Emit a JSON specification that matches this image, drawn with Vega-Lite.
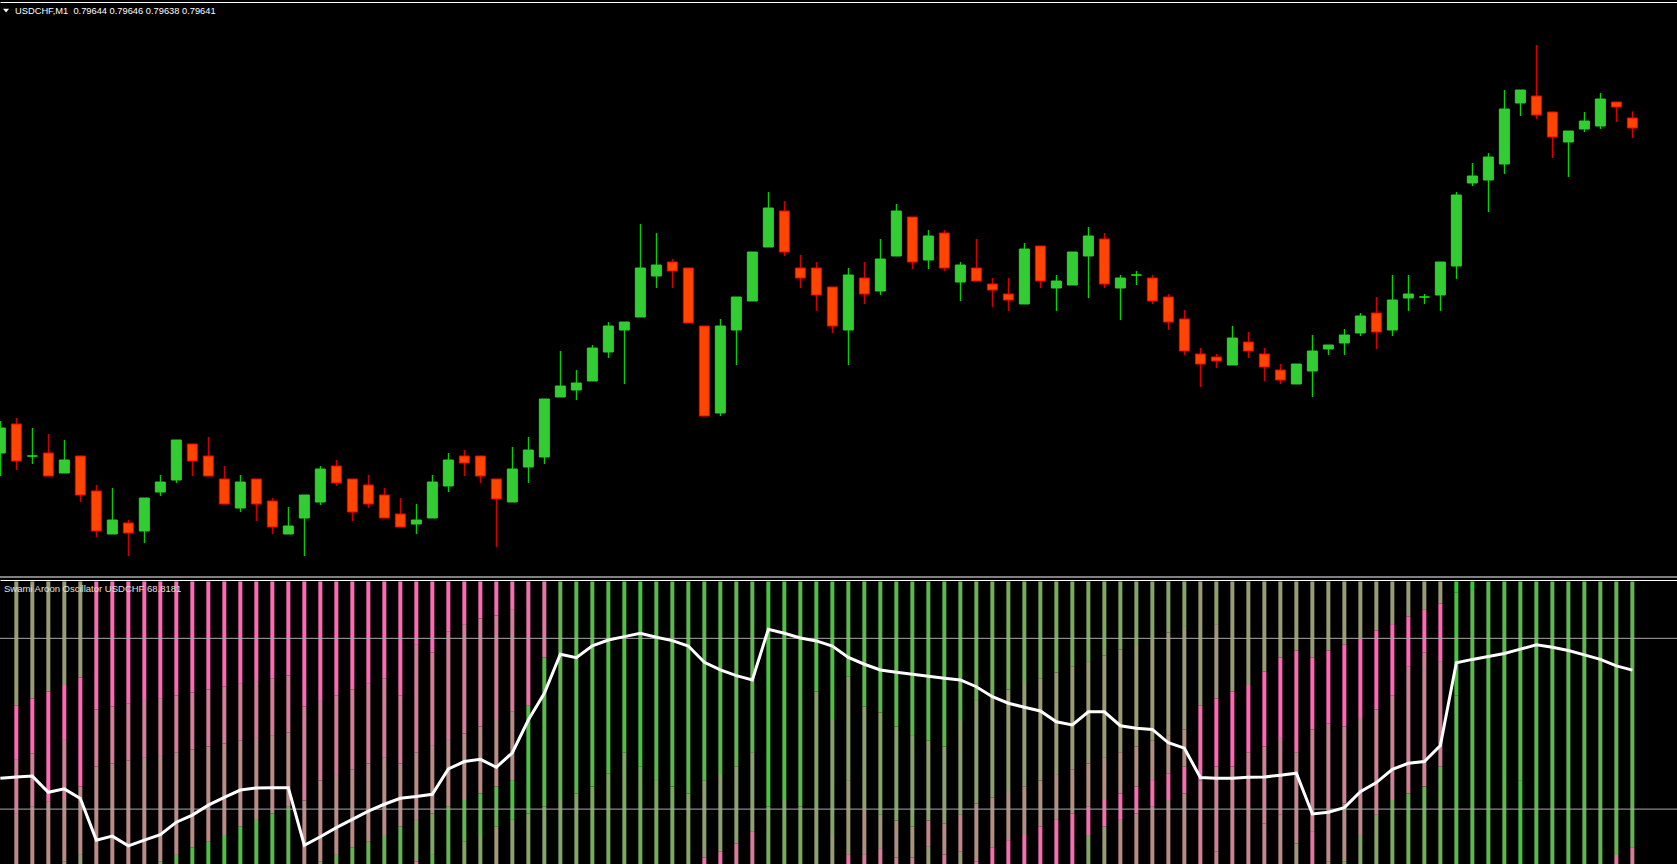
{
"$schema": "https://vega.github.io/schema/vega-lite/v6.json",
"background": "#000000",
"padding": {"left": 0, "top": 2, "right": 0, "bottom": 0},
"bounds": "flush",
"spacing": 2,
"config": {"view": {"stroke": null}, "axis": {"grid": false}},
"datasets": {
"candles": [
{"i":0,"o":0.795435,"h":0.795531,"l":0.795366,"c":0.79551},
{"i":1,"o":0.795522,"h":0.79554,"l":0.795384,"c":0.795411},
{"i":2,"o":0.795426,"h":0.79551,"l":0.795402,"c":0.795426},
{"i":3,"o":0.795435,"h":0.795492,"l":0.795366,"c":0.795366},
{"i":4,"o":0.795375,"h":0.795474,"l":0.795375,"c":0.795414},
{"i":5,"o":0.795426,"h":0.795426,"l":0.795288,"c":0.795309},
{"i":6,"o":0.795321,"h":0.795339,"l":0.795183,"c":0.795201},
{"i":7,"o":0.795192,"h":0.79533,"l":0.795192,"c":0.795234},
{"i":8,"o":0.795225,"h":0.795234,"l":0.795126,"c":0.795195},
{"i":9,"o":0.795201,"h":0.7953,"l":0.795165,"c":0.7953},
{"i":10,"o":0.795318,"h":0.795369,"l":0.795306,"c":0.795348},
{"i":11,"o":0.795354,"h":0.795474,"l":0.795345,"c":0.795474},
{"i":12,"o":0.795462,"h":0.795462,"l":0.795366,"c":0.795411},
{"i":13,"o":0.795426,"h":0.795483,"l":0.795366,"c":0.795366},
{"i":14,"o":0.795357,"h":0.795396,"l":0.795282,"c":0.795282},
{"i":15,"o":0.79527,"h":0.795369,"l":0.795258,"c":0.795348},
{"i":16,"o":0.795357,"h":0.795357,"l":0.795231,"c":0.795282},
{"i":17,"o":0.795291,"h":0.7953,"l":0.795192,"c":0.795213},
{"i":18,"o":0.795192,"h":0.795273,"l":0.795192,"c":0.795216},
{"i":19,"o":0.79524,"h":0.795309,"l":0.795126,"c":0.795309},
{"i":20,"o":0.795288,"h":0.795396,"l":0.795279,"c":0.795387},
{"i":21,"o":0.795396,"h":0.795414,"l":0.795336,"c":0.795345},
{"i":22,"o":0.795357,"h":0.795357,"l":0.795231,"c":0.795258},
{"i":23,"o":0.795339,"h":0.795369,"l":0.79527,"c":0.795282},
{"i":24,"o":0.795309,"h":0.79533,"l":0.79524,"c":0.79524},
{"i":25,"o":0.795252,"h":0.7953,"l":0.795213,"c":0.795213},
{"i":26,"o":0.795222,"h":0.795282,"l":0.795192,"c":0.795234},
{"i":27,"o":0.79524,"h":0.795369,"l":0.79524,"c":0.795348},
{"i":28,"o":0.795336,"h":0.795435,"l":0.795318,"c":0.795414},
{"i":29,"o":0.795426,"h":0.795444,"l":0.795366,"c":0.795405},
{"i":30,"o":0.795426,"h":0.795426,"l":0.795345,"c":0.795366},
{"i":31,"o":0.795357,"h":0.795357,"l":0.795153,"c":0.795297},
{"i":32,"o":0.795288,"h":0.795453,"l":0.795288,"c":0.795387},
{"i":33,"o":0.795393,"h":0.795483,"l":0.795345,"c":0.795444},
{"i":34,"o":0.795423,"h":0.795597,"l":0.795402,"c":0.795597},
{"i":35,"o":0.795603,"h":0.795741,"l":0.795603,"c":0.795636},
{"i":36,"o":0.795624,"h":0.795684,"l":0.795594,"c":0.795645},
{"i":37,"o":0.795651,"h":0.795759,"l":0.795651,"c":0.79575},
{"i":38,"o":0.795738,"h":0.795828,"l":0.79572,"c":0.795816},
{"i":39,"o":0.795804,"h":0.795828,"l":0.795642,"c":0.795828},
{"i":40,"o":0.795843,"h":0.796122,"l":0.795843,"c":0.79599},
{"i":41,"o":0.795966,"h":0.796095,"l":0.79593,"c":0.795999},
{"i":42,"o":0.796008,"h":0.796017,"l":0.79593,"c":0.795981},
{"i":43,"o":0.79599,"h":0.79599,"l":0.795825,"c":0.795825},
{"i":44,"o":0.795816,"h":0.795816,"l":0.795546,"c":0.795546},
{"i":45,"o":0.795555,"h":0.795837,"l":0.795546,"c":0.795816},
{"i":46,"o":0.795804,"h":0.795903,"l":0.795699,"c":0.795903},
{"i":47,"o":0.795891,"h":0.796038,"l":0.795891,"c":0.796038},
{"i":48,"o":0.796053,"h":0.796218,"l":0.796053,"c":0.79617},
{"i":49,"o":0.796161,"h":0.796191,"l":0.796026,"c":0.796038},
{"i":50,"o":0.79599,"h":0.796029,"l":0.79593,"c":0.79596},
{"i":51,"o":0.79599,"h":0.796008,"l":0.795861,"c":0.795909},
{"i":52,"o":0.795933,"h":0.795933,"l":0.795795,"c":0.795816},
{"i":53,"o":0.795804,"h":0.79599,"l":0.795699,"c":0.795969},
{"i":54,"o":0.79596,"h":0.796008,"l":0.795882,"c":0.795912},
{"i":55,"o":0.795921,"h":0.796077,"l":0.795909,"c":0.796017},
{"i":56,"o":0.796026,"h":0.796182,"l":0.796026,"c":0.796161},
{"i":57,"o":0.796143,"h":0.796143,"l":0.795987,"c":0.796008},
{"i":58,"o":0.796014,"h":0.796104,"l":0.795987,"c":0.796086},
{"i":59,"o":0.796095,"h":0.796104,"l":0.795981,"c":0.79599},
{"i":60,"o":0.795948,"h":0.796008,"l":0.795891,"c":0.795999},
{"i":61,"o":0.79599,"h":0.796077,"l":0.795951,"c":0.795951},
{"i":62,"o":0.795942,"h":0.79596,"l":0.795873,"c":0.795924},
{"i":63,"o":0.795912,"h":0.79596,"l":0.795861,"c":0.795894},
{"i":64,"o":0.795882,"h":0.796065,"l":0.795882,"c":0.796047},
{"i":65,"o":0.796056,"h":0.796056,"l":0.79593,"c":0.795951},
{"i":66,"o":0.79593,"h":0.795969,"l":0.795861,"c":0.795951},
{"i":67,"o":0.795939,"h":0.796038,"l":0.795939,"c":0.796038},
{"i":68,"o":0.796026,"h":0.796113,"l":0.7959,"c":0.796086},
{"i":69,"o":0.796077,"h":0.796095,"l":0.79593,"c":0.795942},
{"i":70,"o":0.79593,"h":0.795969,"l":0.795834,"c":0.79596},
{"i":71,"o":0.795969,"h":0.795981,"l":0.795939,"c":0.795969},
{"i":72,"o":0.79596,"h":0.795969,"l":0.795882,"c":0.795891},
{"i":73,"o":0.795903,"h":0.795912,"l":0.795804,"c":0.795828},
{"i":74,"o":0.795837,"h":0.795864,"l":0.795729,"c":0.795741},
{"i":75,"o":0.795732,"h":0.79575,"l":0.795633,"c":0.795702},
{"i":76,"o":0.795723,"h":0.795732,"l":0.79569,"c":0.795711},
{"i":77,"o":0.795699,"h":0.795816,"l":0.795699,"c":0.79578},
{"i":78,"o":0.795768,"h":0.795798,"l":0.79572,"c":0.795741},
{"i":79,"o":0.795732,"h":0.79575,"l":0.795651,"c":0.795693},
{"i":80,"o":0.795684,"h":0.795702,"l":0.795642,"c":0.795654},
{"i":81,"o":0.795642,"h":0.795702,"l":0.795642,"c":0.795702},
{"i":82,"o":0.795681,"h":0.795789,"l":0.795603,"c":0.795741},
{"i":83,"o":0.795747,"h":0.795759,"l":0.795729,"c":0.795759},
{"i":84,"o":0.795765,"h":0.795807,"l":0.795729,"c":0.795789},
{"i":85,"o":0.795795,"h":0.795855,"l":0.795786,"c":0.795846},
{"i":86,"o":0.795855,"h":0.795903,"l":0.795747,"c":0.795798},
{"i":87,"o":0.795804,"h":0.795969,"l":0.795786,"c":0.795894},
{"i":88,"o":0.7959,"h":0.795969,"l":0.795861,"c":0.795912},
{"i":89,"o":0.795903,"h":0.795912,"l":0.795882,"c":0.795903},
{"i":90,"o":0.795909,"h":0.796008,"l":0.795861,"c":0.796008},
{"i":91,"o":0.795996,"h":0.796218,"l":0.795957,"c":0.796209},
{"i":92,"o":0.796245,"h":0.796305,"l":0.796236,"c":0.796266},
{"i":93,"o":0.796254,"h":0.796335,"l":0.796158,"c":0.796323},
{"i":94,"o":0.796302,"h":0.796524,"l":0.796272,"c":0.796467},
{"i":95,"o":0.796485,"h":0.796524,"l":0.796446,"c":0.796524},
{"i":96,"o":0.796506,"h":0.796659,"l":0.796437,"c":0.796449},
{"i":97,"o":0.796458,"h":0.796458,"l":0.79632,"c":0.796383},
{"i":98,"o":0.796368,"h":0.796401,"l":0.796263,"c":0.796401},
{"i":99,"o":0.796407,"h":0.796458,"l":0.796398,"c":0.796431},
{"i":100,"o":0.796416,"h":0.796515,"l":0.796407,"c":0.796497},
{"i":101,"o":0.796488,"h":0.796488,"l":0.796428,"c":0.796473},
{"i":102,"o":0.79644,"h":0.79646,"l":0.79638,"c":0.79641}
],
"osc": [
{"i":0,"v":30.8},{"i":1,"v":31.3},{"i":2,"v":31.6},{"i":3,"v":25.9},{"i":4,"v":27.1},{"i":5,"v":23.7},{"i":6,"v":9.1},{"i":7,"v":10.5},{"i":8,"v":7.1},{"i":9,"v":9.1},
{"i":10,"v":11.0},{"i":11,"v":15.4},{"i":12,"v":17.9},{"i":13,"v":21.4},{"i":14,"v":24.1},{"i":15,"v":26.7},{"i":16,"v":27.4},{"i":17,"v":27.5},{"i":18,"v":27.5},{"i":19,"v":7.3},
{"i":20,"v":10.3},{"i":21,"v":13.5},{"i":22,"v":16.4},{"i":23,"v":19.3},{"i":24,"v":21.7},{"i":25,"v":23.8},{"i":26,"v":24.4},{"i":27,"v":25.2},{"i":28,"v":34.1},{"i":29,"v":36.7},
{"i":30,"v":37.5},{"i":31,"v":34.7},{"i":32,"v":39.8},{"i":33,"v":51.3},{"i":34,"v":60.7},{"i":35,"v":74.4},{"i":36,"v":73.2},{"i":37,"v":77.4},{"i":38,"v":79.4},{"i":39,"v":80.6},
{"i":40,"v":81.8},{"i":41,"v":80.4},{"i":42,"v":79.2},{"i":43,"v":77.3},{"i":44,"v":71.6},{"i":45,"v":68.9},{"i":46,"v":66.9},{"i":47,"v":65.4},{"i":48,"v":83.2},{"i":49,"v":81.8},
{"i":50,"v":80.1},{"i":51,"v":79.1},{"i":52,"v":77.3},{"i":53,"v":73.3},{"i":54,"v":70.9},{"i":55,"v":68.9},{"i":56,"v":68.1},{"i":57,"v":67.4},{"i":58,"v":66.7},{"i":59,"v":66.0},
{"i":60,"v":65.4},{"i":61,"v":63.0},{"i":62,"v":59.5},{"i":63,"v":57.2},{"i":64,"v":55.8},{"i":65,"v":54.5},{"i":66,"v":50.7},{"i":67,"v":49.6},{"i":68,"v":54.2},{"i":69,"v":54.2},
{"i":70,"v":49.3},{"i":71,"v":48.4},{"i":72,"v":48.0},{"i":73,"v":43.3},{"i":74,"v":41.4},{"i":75,"v":31.1},{"i":76,"v":30.8},{"i":77,"v":30.8},{"i":78,"v":31.2},{"i":79,"v":31.3},
{"i":80,"v":31.9},{"i":81,"v":32.6},{"i":82,"v":18.3},{"i":83,"v":18.9},{"i":84,"v":20.5},{"i":85,"v":26.1},{"i":86,"v":29.3},{"i":87,"v":34.0},{"i":88,"v":36.1},{"i":89,"v":36.7},
{"i":90,"v":42.3},{"i":91,"v":71.4},{"i":92,"v":72.6},{"i":93,"v":73.6},{"i":94,"v":74.7},{"i":95,"v":76.2},{"i":96,"v":77.7},{"i":97,"v":76.9},{"i":98,"v":75.7},{"i":99,"v":74.2},
{"i":100,"v":72.6},{"i":101,"v":70.3},{"i":102,"v":68.8181}
],
"swami": [
{"i":1,"a":100,"b":56.3,"c":0.5},{"i":1,"a":56.3,"b":37.3,"c":0.0},{"i":1,"a":37.3,"b":18.3,"c":0.22},{"i":1,"a":18.3,"b":0,"c":0.33},
{"i":2,"a":100,"b":58.9,"c":0.5},{"i":2,"a":58.9,"b":39.6,"c":0.0},{"i":2,"a":39.6,"b":20.8,"c":0.22},{"i":2,"a":20.8,"b":0,"c":0.33},
{"i":3,"a":100,"b":61.3,"c":0.5},{"i":3,"a":61.3,"b":22.8,"c":0.0},{"i":3,"a":22.8,"b":0,"c":0.33},
{"i":4,"a":100,"b":63.6,"c":0.5},{"i":4,"a":63.6,"b":44.3,"c":0.0},{"i":4,"a":44.3,"b":23.2,"c":0.22},{"i":4,"a":23.2,"b":1.5,"c":0.33},{"i":4,"a":1.5,"b":0,"c":0.5},
{"i":5,"a":100,"b":66.2,"c":0.5},{"i":5,"a":66.2,"b":27.9,"c":0.0},{"i":5,"a":27.9,"b":3.9,"c":0.33},{"i":5,"a":3.9,"b":0,"c":0.5},
{"i":6,"a":100,"b":55,"c":0.05},{"i":6,"a":55,"b":35,"c":0.2},{"i":6,"a":35,"b":0,"c":0.33},
{"i":7,"a":100,"b":56,"c":0.02},{"i":7,"a":56,"b":36,"c":0.2},{"i":7,"a":36,"b":0,"c":0.33},
{"i":8,"a":100,"b":57,"c":0.02},{"i":8,"a":57,"b":37,"c":0.2},{"i":8,"a":37,"b":0,"c":0.33},
{"i":9,"a":100,"b":58,"c":0.02},{"i":9,"a":58,"b":38,"c":0.2},{"i":9,"a":38,"b":0,"c":0.33},
{"i":10,"a":100,"b":59,"c":0.02},{"i":10,"a":59,"b":39,"c":0.2},{"i":10,"a":39,"b":1.5,"c":0.33},{"i":10,"a":1.5,"b":0,"c":0.6},
{"i":11,"a":100,"b":60,"c":0.02},{"i":11,"a":60,"b":40,"c":0.2},{"i":11,"a":40,"b":3.9,"c":0.33},{"i":11,"a":3.9,"b":0,"c":0.75},
{"i":12,"a":100,"b":61,"c":0.02},{"i":12,"a":61,"b":41,"c":0.2},{"i":12,"a":41,"b":6.6,"c":0.33},{"i":12,"a":6.6,"b":0,"c":0.8},
{"i":13,"a":100,"b":62,"c":0.02},{"i":13,"a":62,"b":42,"c":0.2},{"i":13,"a":42,"b":8.5,"c":0.33},{"i":13,"a":8.5,"b":0,"c":0.85},
{"i":14,"a":100,"b":63,"c":0.02},{"i":14,"a":63,"b":43,"c":0.2},{"i":14,"a":43,"b":10.9,"c":0.33},{"i":14,"a":10.9,"b":0,"c":0.85},
{"i":15,"a":100,"b":64,"c":0.02},{"i":15,"a":64,"b":44,"c":0.2},{"i":15,"a":44,"b":13.8,"c":0.33},{"i":15,"a":13.8,"b":0,"c":0.85},
{"i":16,"a":100,"b":65,"c":0.02},{"i":16,"a":65,"b":45,"c":0.2},{"i":16,"a":45,"b":16.2,"c":0.33},{"i":16,"a":16.2,"b":0,"c":0.8},
{"i":17,"a":100,"b":66,"c":0.02},{"i":17,"a":66,"b":46,"c":0.2},{"i":17,"a":46,"b":18.5,"c":0.33},{"i":17,"a":18.5,"b":0,"c":0.8},
{"i":18,"a":100,"b":67,"c":0.02},{"i":18,"a":67,"b":47,"c":0.2},{"i":18,"a":47,"b":20.8,"c":0.33},{"i":18,"a":20.8,"b":0,"c":0.75},
{"i":19,"a":100,"b":56,"c":0.0},{"i":19,"a":56,"b":23,"c":0.2},{"i":19,"a":23,"b":0,"c":0.33},
{"i":20,"a":100,"b":58,"c":0.02},{"i":20,"a":58,"b":30,"c":0.2},{"i":20,"a":30,"b":1.5,"c":0.33},{"i":20,"a":1.5,"b":0,"c":0.55},
{"i":21,"a":100,"b":60,"c":0.02},{"i":21,"a":60,"b":32,"c":0.2},{"i":21,"a":32,"b":3.9,"c":0.33},{"i":21,"a":3.9,"b":0,"c":0.7},
{"i":22,"a":100,"b":62,"c":0.02},{"i":22,"a":62,"b":34,"c":0.2},{"i":22,"a":34,"b":6.6,"c":0.33},{"i":22,"a":6.6,"b":0,"c":0.7},
{"i":23,"a":100,"b":64,"c":0.02},{"i":23,"a":64,"b":36,"c":0.2},{"i":23,"a":36,"b":8.5,"c":0.33},{"i":23,"a":8.5,"b":0,"c":0.7},
{"i":24,"a":100,"b":66,"c":0.02},{"i":24,"a":66,"b":38,"c":0.2},{"i":24,"a":38,"b":10.9,"c":0.33},{"i":24,"a":10.9,"b":0,"c":0.7},
{"i":25,"a":100,"b":60,"c":0.02},{"i":25,"a":60,"b":36,"c":0.2},{"i":25,"a":36,"b":13.8,"c":0.33},{"i":25,"a":13.8,"b":0,"c":0.75},
{"i":26,"a":100,"b":77.7,"c":0.02},{"i":26,"a":77.7,"b":39.8,"c":0.2},{"i":26,"a":39.8,"b":16.2,"c":0.33},{"i":26,"a":16.2,"b":1.5,"c":0.6},{"i":26,"a":1.5,"b":0,"c":0.1},
{"i":27,"a":100,"b":75,"c":0.02},{"i":27,"a":75,"b":42.5,"c":0.2},{"i":27,"a":42.5,"b":18.5,"c":0.33},{"i":27,"a":18.5,"b":3.9,"c":0.6},{"i":27,"a":3.9,"b":0,"c":0.75},
{"i":28,"a":100,"b":82.3,"c":0.02},{"i":28,"a":82.3,"b":44.3,"c":0.2},{"i":28,"a":44.3,"b":20.8,"c":0.33},{"i":28,"a":20.8,"b":0,"c":0.75},
{"i":29,"a":100,"b":85,"c":0.02},{"i":29,"a":85,"b":46.6,"c":0.2},{"i":29,"a":46.6,"b":23.2,"c":0.33},{"i":29,"a":23.2,"b":8.5,"c":0.75},{"i":29,"a":8.5,"b":0,"c":0.6},
{"i":30,"a":100,"b":87,"c":0.02},{"i":30,"a":87,"b":49,"c":0.2},{"i":30,"a":49,"b":25.5,"c":0.33},{"i":30,"a":25.5,"b":10.9,"c":0.75},{"i":30,"a":10.9,"b":0,"c":0.6},
{"i":31,"a":100,"b":88,"c":0.05},{"i":31,"a":88,"b":51.3,"c":0.2},{"i":31,"a":51.3,"b":27.9,"c":0.33},{"i":31,"a":27.9,"b":13.8,"c":0.75},{"i":31,"a":13.8,"b":0,"c":0.45},
{"i":32,"a":100,"b":90,"c":0.05},{"i":32,"a":90,"b":54.2,"c":0.2},{"i":32,"a":54.2,"b":30.2,"c":0.35},{"i":32,"a":30.2,"b":16.2,"c":0.85},{"i":32,"a":16.2,"b":0,"c":0.55},
{"i":33,"a":100,"b":56.3,"c":0.1},{"i":33,"a":56.3,"b":18.5,"c":0.85},{"i":33,"a":18.5,"b":0,"c":0.6},
{"i":34,"a":100,"b":73.2,"c":0.15},{"i":34,"a":73.2,"b":20.8,"c":0.8},{"i":34,"a":20.8,"b":0,"c":0.6},
{"i":35,"a":100,"b":23.2,"c":0.75},{"i":35,"a":23.2,"b":0,"c":0.6},
{"i":36,"a":100,"b":25.5,"c":0.8},{"i":36,"a":25.5,"b":0,"c":0.6},
{"i":37,"a":100,"b":27.9,"c":0.8},{"i":37,"a":27.9,"b":0,"c":0.65},
{"i":38,"a":100,"b":32.6,"c":0.85},{"i":38,"a":32.6,"b":0,"c":0.65},
{"i":39,"a":100,"b":39.8,"c":0.85},{"i":39,"a":39.8,"b":0,"c":0.65},
{"i":40,"a":100,"b":34.9,"c":0.9},{"i":40,"a":34.9,"b":0,"c":0.7},
{"i":41,"a":100,"b":30.2,"c":0.8},{"i":41,"a":30.2,"b":0,"c":0.65},
{"i":42,"a":100,"b":27.9,"c":0.8},{"i":42,"a":27.9,"b":0,"c":0.65},
{"i":43,"a":100,"b":25.5,"c":0.8},{"i":43,"a":25.5,"b":0,"c":0.6},
{"i":44,"a":100,"b":30,"c":0.8},{"i":44,"a":30,"b":3,"c":0.55},{"i":44,"a":3,"b":0,"c":0.1},
{"i":45,"a":100,"b":32,"c":0.8},{"i":45,"a":32,"b":5,"c":0.55},{"i":45,"a":5,"b":0,"c":0.1},
{"i":46,"a":100,"b":35,"c":0.75},{"i":46,"a":35,"b":8,"c":0.55},{"i":46,"a":8,"b":0,"c":0.2},
{"i":47,"a":100,"b":40,"c":0.75},{"i":47,"a":40,"b":12,"c":0.55},{"i":47,"a":12,"b":0,"c":0.2},
{"i":48,"a":100,"b":20.8,"c":0.9},{"i":48,"a":20.8,"b":0,"c":0.65},
{"i":49,"a":100,"b":23.2,"c":0.85},{"i":49,"a":23.2,"b":0,"c":0.65},
{"i":50,"a":100,"b":20.8,"c":0.8},{"i":50,"a":20.8,"b":0,"c":0.65},
{"i":51,"a":100,"b":61.3,"c":0.85},{"i":51,"a":61.3,"b":20,"c":0.6},{"i":51,"a":20,"b":0,"c":0.55},
{"i":52,"a":100,"b":51.3,"c":0.85},{"i":52,"a":51.3,"b":10.9,"c":0.6},{"i":52,"a":10.9,"b":0,"c":0.5},
{"i":53,"a":100,"b":66.5,"c":0.8},{"i":53,"a":66.5,"b":30.2,"c":0.55},{"i":53,"a":30.2,"b":3.9,"c":0.5},{"i":53,"a":3.9,"b":0,"c":0.1},
{"i":54,"a":100,"b":56,"c":0.8},{"i":54,"a":56,"b":20,"c":0.55},{"i":54,"a":20,"b":3.9,"c":0.4},{"i":54,"a":3.9,"b":0,"c":0.2},
{"i":55,"a":100,"b":54,"c":0.8},{"i":55,"a":54,"b":18,"c":0.6},{"i":55,"a":18,"b":6,"c":0.45},{"i":55,"a":6,"b":0,"c":0.2},
{"i":56,"a":100,"b":49,"c":0.8},{"i":56,"a":49,"b":16,"c":0.6},{"i":56,"a":16,"b":3,"c":0.4},{"i":56,"a":3,"b":0,"c":0.3},
{"i":57,"a":100,"b":46,"c":0.8},{"i":57,"a":46,"b":13.8,"c":0.6},{"i":57,"a":13.8,"b":3,"c":0.45},{"i":57,"a":3,"b":0,"c":0.3},
{"i":58,"a":100,"b":44,"c":0.8},{"i":58,"a":44,"b":16,"c":0.55},{"i":58,"a":16,"b":7,"c":0.3},{"i":58,"a":7,"b":0,"c":0.5},
{"i":59,"a":100,"b":42,"c":0.8},{"i":59,"a":42,"b":15,"c":0.55},{"i":59,"a":15,"b":4,"c":0.35},{"i":59,"a":4,"b":0,"c":0.2},
{"i":60,"a":100,"b":51,"c":0.75},{"i":60,"a":51,"b":18,"c":0.55},{"i":60,"a":18,"b":5,"c":0.3},{"i":60,"a":5,"b":0,"c":0.5},
{"i":61,"a":100,"b":58,"c":0.7},{"i":61,"a":58,"b":22,"c":0.55},{"i":61,"a":22,"b":1.5,"c":0.38},{"i":61,"a":1.5,"b":0,"c":0.05},
{"i":62,"a":100,"b":60,"c":0.7},{"i":62,"a":60,"b":24,"c":0.55},{"i":62,"a":24,"b":6.6,"c":0.38},{"i":62,"a":6.6,"b":0,"c":0.05},
{"i":63,"a":100,"b":62,"c":0.68},{"i":63,"a":62,"b":26,"c":0.52},{"i":63,"a":26,"b":9.1,"c":0.38},{"i":63,"a":9.1,"b":0,"c":0.05},
{"i":64,"a":100,"b":64,"c":0.68},{"i":64,"a":64,"b":28,"c":0.52},{"i":64,"a":28,"b":10.9,"c":0.38},{"i":64,"a":10.9,"b":0,"c":0.05},
{"i":65,"a":100,"b":66,"c":0.66},{"i":65,"a":66,"b":30,"c":0.5},{"i":65,"a":30,"b":13.8,"c":0.38},{"i":65,"a":13.8,"b":0,"c":0.05},
{"i":66,"a":100,"b":68,"c":0.66},{"i":66,"a":68,"b":32,"c":0.5},{"i":66,"a":32,"b":16.2,"c":0.38},{"i":66,"a":16.2,"b":0,"c":0.05},
{"i":67,"a":100,"b":70,"c":0.65},{"i":67,"a":70,"b":34,"c":0.5},{"i":67,"a":34,"b":18.5,"c":0.38},{"i":67,"a":18.5,"b":0,"c":0.05},
{"i":68,"a":100,"b":72,"c":0.65},{"i":68,"a":72,"b":36,"c":0.5},{"i":68,"a":36,"b":20.8,"c":0.38},{"i":68,"a":20.8,"b":10.9,"c":0.05},{"i":68,"a":10.9,"b":0,"c":0.6},
{"i":69,"a":100,"b":74,"c":0.62},{"i":69,"a":74,"b":38,"c":0.5},{"i":69,"a":38,"b":23.2,"c":0.38},{"i":69,"a":23.2,"b":13.8,"c":0.05},{"i":69,"a":13.8,"b":0,"c":0.5},
{"i":70,"a":100,"b":76,"c":0.62},{"i":70,"a":76,"b":40,"c":0.5},{"i":70,"a":40,"b":25.5,"c":0.38},{"i":70,"a":25.5,"b":16.2,"c":0.05},{"i":70,"a":16.2,"b":0,"c":0.35},
{"i":71,"a":100,"b":78,"c":0.6},{"i":71,"a":78,"b":42,"c":0.5},{"i":71,"a":42,"b":27.9,"c":0.38},{"i":71,"a":27.9,"b":18.5,"c":0.05},{"i":71,"a":18.5,"b":0,"c":0.35},
{"i":72,"a":100,"b":80,"c":0.6},{"i":72,"a":80,"b":44,"c":0.5},{"i":72,"a":44,"b":30.2,"c":0.38},{"i":72,"a":30.2,"b":20.8,"c":0.05},{"i":72,"a":20.8,"b":0,"c":0.35},
{"i":73,"a":100,"b":82,"c":0.58},{"i":73,"a":82,"b":46,"c":0.48},{"i":73,"a":46,"b":32.6,"c":0.38},{"i":73,"a":32.6,"b":23.2,"c":0.05},{"i":73,"a":23.2,"b":0,"c":0.35},
{"i":74,"a":100,"b":84,"c":0.58},{"i":74,"a":84,"b":48,"c":0.48},{"i":74,"a":48,"b":34.9,"c":0.38},{"i":74,"a":34.9,"b":25.5,"c":0.05},{"i":74,"a":25.5,"b":0,"c":0.35},
{"i":75,"a":100,"b":56.3,"c":0.5},{"i":75,"a":56.3,"b":30,"c":0.05},{"i":75,"a":30,"b":0,"c":0.22},
{"i":76,"a":100,"b":85,"c":0.55},{"i":76,"a":85,"b":58.9,"c":0.45},{"i":76,"a":58.9,"b":35,"c":0.0},{"i":76,"a":35,"b":5,"c":0.25},{"i":76,"a":5,"b":0,"c":0.3},
{"i":77,"a":100,"b":61.3,"c":0.5},{"i":77,"a":61.3,"b":35,"c":0.0},{"i":77,"a":35,"b":0,"c":0.25},
{"i":78,"a":100,"b":63.6,"c":0.5},{"i":78,"a":63.6,"b":40,"c":0.0},{"i":78,"a":40,"b":20,"c":0.2},{"i":78,"a":20,"b":0,"c":0.3},
{"i":79,"a":100,"b":68.3,"c":0.5},{"i":79,"a":68.3,"b":42,"c":0.0},{"i":79,"a":42,"b":15,"c":0.25},{"i":79,"a":15,"b":0,"c":0.3},
{"i":80,"a":100,"b":73.2,"c":0.5},{"i":80,"a":73.2,"b":45,"c":0.0},{"i":80,"a":45,"b":18,"c":0.25},{"i":80,"a":18,"b":0,"c":0.33},
{"i":81,"a":100,"b":75.7,"c":0.5},{"i":81,"a":75.7,"b":40,"c":0.05},{"i":81,"a":40,"b":8,"c":0.3},{"i":81,"a":8,"b":0,"c":0.45},
{"i":82,"a":100,"b":73.2,"c":0.5},{"i":82,"a":73.2,"b":48,"c":0.0},{"i":82,"a":48,"b":12,"c":0.25},{"i":82,"a":12,"b":0,"c":0.15},
{"i":83,"a":100,"b":75.7,"c":0.5},{"i":83,"a":75.7,"b":50,"c":0.0},{"i":83,"a":50,"b":20,"c":0.25},{"i":83,"a":20,"b":1.5,"c":0.3},{"i":83,"a":1.5,"b":0,"c":0.5},
{"i":84,"a":100,"b":77.9,"c":0.5},{"i":84,"a":77.9,"b":49,"c":0.0},{"i":84,"a":49,"b":22,"c":0.25},{"i":84,"a":22,"b":1.5,"c":0.35},{"i":84,"a":1.5,"b":0,"c":0.65},
{"i":85,"a":100,"b":80,"c":0.5},{"i":85,"a":80,"b":52,"c":0.0},{"i":85,"a":52,"b":10.9,"c":0.3},{"i":85,"a":10.9,"b":0,"c":0.6},
{"i":86,"a":100,"b":82.7,"c":0.5},{"i":86,"a":82.7,"b":55,"c":0.0},{"i":86,"a":55,"b":18,"c":0.25},{"i":86,"a":18,"b":0,"c":0.6},
{"i":87,"a":100,"b":85,"c":0.5},{"i":87,"a":85,"b":60,"c":0.0},{"i":87,"a":60,"b":23.2,"c":0.25},{"i":87,"a":23.2,"b":0,"c":0.65},
{"i":88,"a":100,"b":87.6,"c":0.5},{"i":88,"a":87.6,"b":70,"c":0.0},{"i":88,"a":70,"b":25.5,"c":0.25},{"i":88,"a":25.5,"b":0,"c":0.7},
{"i":89,"a":100,"b":90,"c":0.5},{"i":89,"a":90,"b":75,"c":0.0},{"i":89,"a":75,"b":27.9,"c":0.25},{"i":89,"a":27.9,"b":0,"c":0.7},
{"i":90,"a":100,"b":92.3,"c":0.5},{"i":90,"a":92.3,"b":72,"c":0.0},{"i":90,"a":72,"b":34.9,"c":0.25},{"i":90,"a":34.9,"b":0,"c":0.7},
{"i":91,"a":100,"b":96,"c":1.0},{"i":91,"a":96,"b":60,"c":0.9},{"i":91,"a":60,"b":0,"c":0.8},
{"i":92,"a":100,"b":97,"c":1.0},{"i":92,"a":97,"b":0,"c":0.8},
{"i":93,"a":100,"b":0,"c":0.8},
{"i":94,"a":100,"b":0,"c":0.8},
{"i":95,"a":100,"b":30,"c":0.8},{"i":95,"a":30,"b":0,"c":0.9},
{"i":96,"a":100,"b":0,"c":0.8},
{"i":97,"a":100,"b":0,"c":0.78},
{"i":98,"a":100,"b":0,"c":0.78},
{"i":99,"a":100,"b":0,"c":0.78},
{"i":100,"a":100,"b":0,"c":0.75},
{"i":101,"a":100,"b":3.9,"c":0.75},{"i":101,"a":3.9,"b":0,"c":0.15},
{"i":102,"a":100,"b":6.6,"c":0.75},{"i":102,"a":6.6,"b":0,"c":0.2}
]
},
"vconcat": [
{
"width": 1677,
"height": 576,
"layer": [
{
"data": {"name": "candles"},
"mark": {"type": "rule", "strokeWidth": 1, "clip": true},
"encoding": {
"x": {"field": "i", "type": "quantitative", "scale": {"domain": [-0.02, 104.79], "nice": false, "zero": false, "padding": 0}, "axis": {"orient": "top", "domainColor": "#FFFFFF", "labels": false, "ticks": false, "grid": false, "title": null}},
"y": {"field": "l", "type": "quantitative", "scale": {"domain": [0.79506, 0.796788], "nice": false, "zero": false, "padding": 0}, "axis": null},
"y2": {"field": "h"},
"color": {"condition": {"test": "datum.c < datum.o", "value": "#FF0000"}, "value": "#00FF00"}
}
},
{
"data": {"name": "candles"},
"mark": {"type": "bar", "width": 10, "strokeWidth": 1, "clip": true},
"encoding": {
"x": {"field": "i", "type": "quantitative"},
"y": {"field": "o", "type": "quantitative"},
"y2": {"field": "c"},
"fill": {"condition": {"test": "datum.c < datum.o", "value": "#FF4500"}, "value": "#32CD32"},
"stroke": {"condition": [{"test": "datum.c < datum.o", "value": "#FF0000"}, {"test": "datum.c == datum.o", "value": "#00FF00"}], "value": "#32CD32"}
}
},
{
"data": {"values": [{"p": 0.795063}]},
"mark": {"type": "rule", "color": "#FFFFFF", "strokeWidth": 1, "clip": true},
"encoding": {"y": {"field": "p", "type": "quantitative"}}
},
{
"data": {"values": [{"i": 0.36, "p": 0.796762}]},
"mark": {"type": "point", "shape": "M-1,-0.6L1,-0.6L0,0.6Z", "filled": true, "color": "#FFFFFF", "size": 36, "opacity": 1, "clip": true},
"encoding": {"x": {"field": "i", "type": "quantitative"}, "y": {"field": "p", "type": "quantitative"}}
},
{
"data": {"values": [{"i": 0.92, "p": 0.796762, "t": "USDCHF,M1\u00a0\u00a00.79644 0.79646 0.79638 0.79641"}]},
"mark": {"type": "text", "align": "left", "baseline": "middle", "font": "Liberation Sans", "fontSize": 9.3, "color": "#FFFFFF", "clip": true},
"encoding": {"x": {"field": "i", "type": "quantitative"}, "y": {"field": "p", "type": "quantitative"}, "text": {"field": "t"}}
}
]
},
{
"width": 1677,
"height": 284,
"layer": [
{
"data": {"name": "swami"},
"mark": {"type": "bar", "width": 4, "clip": true},
"encoding": {
"x": {"field": "i", "type": "quantitative", "scale": {"domain": [-0.02, 104.79], "nice": false, "zero": false, "padding": 0}, "axis": {"orient": "top", "domainColor": "#FFFFFF", "labels": false, "ticks": false, "grid": false, "title": null}},
"y": {"field": "a", "type": "quantitative", "scale": {"domain": [0.71, 100.5], "nice": false, "zero": false, "padding": 0}, "axis": null},
"y2": {"field": "b"},
"color": {"field": "c", "type": "quantitative", "scale": {"domain": [0, 1], "range": ["#FF69B4", "#32CD32"], "interpolate": "rgb"}, "legend": null}
}
},
{
"data": {"values": [{"lv": 80}, {"lv": 20}]},
"mark": {"type": "rule", "color": "#A9A9A9", "strokeWidth": 1, "clip": true},
"encoding": {"y": {"field": "lv", "type": "quantitative"}}
},
{
"data": {"name": "osc"},
"mark": {"type": "line", "color": "#FFFFFF", "strokeWidth": 3, "clip": true},
"encoding": {"x": {"field": "i", "type": "quantitative"}, "y": {"field": "v", "type": "quantitative"}}
},
{
"data": {"values": [{"i": 0.23, "v": 97.2, "t": "Swami Aroon Oscillator USDCHF 68.8181"}]},
"mark": {"type": "text", "align": "left", "baseline": "middle", "font": "Liberation Sans", "fontSize": 9.5, "color": "#E0E0E0", "clip": true},
"encoding": {"x": {"field": "i", "type": "quantitative"}, "y": {"field": "v", "type": "quantitative"}, "text": {"field": "t"}}
}
]
}
]
}
